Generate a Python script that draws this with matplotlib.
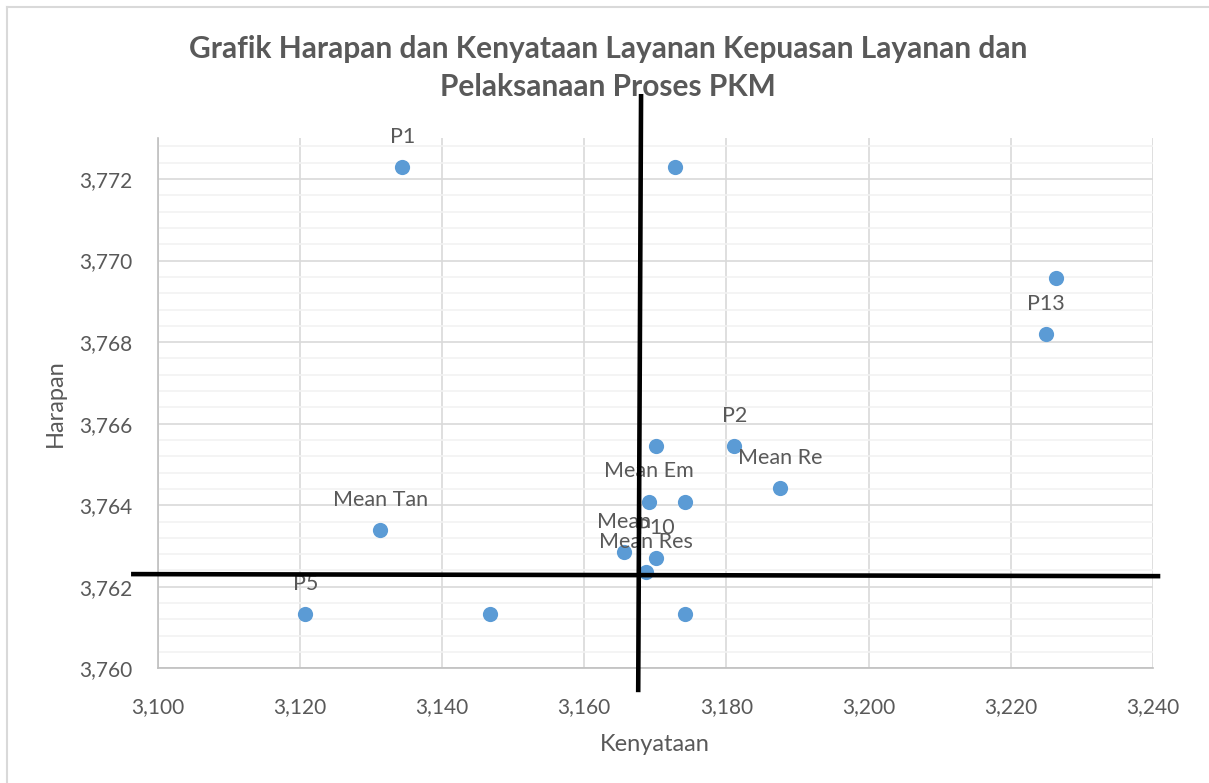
import matplotlib
matplotlib.use("Agg")
import matplotlib.pyplot as plt
from matplotlib.ticker import MultipleLocator, FuncFormatter
from matplotlib.lines import Line2D

plt.rcParams['font.family'] = ['Lato', 'DejaVu Sans']

# data (Kenyataan vs Harapan)
kenyataan = [3.1344, 3.1728, 3.2264, 3.2250, 3.1701, 3.1811, 3.1876, 3.1691,
             3.1742, 3.1313, 3.1656, 3.1701, 3.1687, 3.1208, 3.1468, 3.1742]
harapan = [3.77229, 3.77229, 3.76957, 3.76819, 3.76545, 3.76545, 3.76442, 3.76408,
           3.76408, 3.76339, 3.76285, 3.76270, 3.76236, 3.76133, 3.76133, 3.76133]
labels = ["P1", "", "", "P13", "", "P2", "Mean Re", "Mean Em",
          "", "Mean Tan", "Mean", "P10", "Mean Res", "P5", "", ""]

# hand-drawn quadrant lines (endpoints in data units)
vline_x = [3.1680, 3.1676]
vline_y = [3.77403, 3.75947]
hline_x = [3.0966, 3.2407]
hline_y = [3.76231, 3.76226]

title = "Grafik Harapan dan Kenyataan Layanan Kepuasan Layanan dan\nPelaksanaan Proses PKM"
text_col = "#595959"
dot_col = "#5B9BD5"

fig = plt.figure(figsize=(12.09, 7.83), dpi=100)
ax = fig.add_axes([0.1303, 0.1465, 0.8234, 0.6769])

ax.set_xlim(3.10, 3.24)
ax.set_ylim(3.760, 3.773)
ax.xaxis.set_major_locator(MultipleLocator(0.02))
ax.yaxis.set_major_locator(MultipleLocator(0.002))
ax.yaxis.set_minor_locator(MultipleLocator(0.0004))
ax.xaxis.set_major_formatter(FuncFormatter(lambda v, p: f"{v:.3f}".replace(".", ",")))
ax.yaxis.set_major_formatter(FuncFormatter(lambda v, p: f"{v:.3f}".replace(".", ",")))

ax.grid(True, which='major', color='#D9D9D9', linewidth=1.2)
ax.grid(True, which='minor', axis='y', color='#F2F2F2', linewidth=1.2)
ax.set_axisbelow(True)
for s in ['top', 'right']:
    ax.spines[s].set_visible(False)
for s in ['left', 'bottom']:
    ax.spines[s].set_color('#BFBFBF')
    ax.spines[s].set_linewidth(1.2)
ax.tick_params(which='both', length=0, labelsize=15, colors=text_col)
ax.tick_params(axis='x', pad=21)
ax.tick_params(axis='y', pad=18)

ax.scatter(kenyataan, harapan, s=120, color=dot_col, zorder=3, linewidths=0)
for x, y, t in zip(kenyataan, harapan, labels):
    if t:
        ax.annotate(t, (x, y), xytext=(0, 22), textcoords='offset points',
                    ha='center', va='center', fontsize=15.5, color=text_col, zorder=4)

ax.plot(vline_x, vline_y, color='black', linewidth=3.3, clip_on=False, zorder=5)
ax.plot(hline_x, hline_y, color='black', linewidth=3.3, clip_on=False, zorder=5)

ax.set_xlabel("Kenyataan", fontsize=17, color=text_col, labelpad=12)
ax.set_ylabel("Harapan", fontsize=17, color=text_col, labelpad=10)

fig.text(608 / 1209, 1 - 68 / 783, title, ha='center', va='center',
         fontsize=21.5, fontweight='bold', color=text_col, linespacing=1.4)

# chart border (left and top edges visible)
fig.add_artist(Line2D([7 / 1209, 7 / 1209], [0, 1 - 7 / 783], transform=fig.transFigure,
                      color='#D9D9D9', linewidth=1.5))
fig.add_artist(Line2D([7 / 1209, 1], [1 - 7 / 783, 1 - 7 / 783], transform=fig.transFigure,
                      color='#D9D9D9', linewidth=1.5))

fig.savefig("out.png", dpi=100)
